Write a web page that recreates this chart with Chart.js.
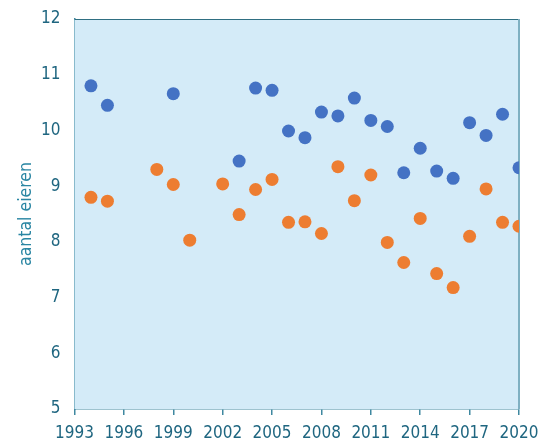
<!DOCTYPE html>
<html>
<head>
<meta charset="utf-8">
<script src="https://cdn.jsdelivr.net/npm/chart.js@4"></script>
<style>
  html, body { margin: 0; padding: 0; background: #fff; }
  #wrap { width: 553px; height: 448px; }
</style>
</head>
<body>
<div id="wrap"><canvas id="grafiek"></canvas></div>
<script>
// jaren en aantallen
const jarenBlauw = [1994, 1995, 1999, 2003, 2004, 2005, 2006, 2007, 2008, 2009, 2010, 2011, 2012, 2013, 2014, 2015, 2016, 2017, 2018, 2019, 2020];
const eierenBlauw = [10.80, 10.45, 10.66, 9.45, 10.76, 10.72, 9.99, 9.87, 10.33, 10.26, 10.58, 10.18, 10.07, 9.24, 9.68, 9.27, 9.14, 10.14, 9.91, 10.29, 9.33];

const jarenOranje = [1994, 1995, 1998, 1999, 2000, 2002, 2003, 2004, 2005, 2006, 2007, 2008, 2009, 2010, 2011, 2012, 2013, 2014, 2015, 2016, 2017, 2018, 2019, 2020];
const eierenOranje = [8.80, 8.73, 9.30, 9.03, 8.03, 9.04, 8.49, 8.94, 9.12, 8.35, 8.36, 8.15, 9.35, 8.74, 9.20, 7.99, 7.63, 8.42, 7.43, 7.18, 8.10, 8.95, 8.35, 8.28];

const xTicks = [1993, 1996, 1999, 2002, 2005, 2008, 2011, 2014, 2017, 2020];
const yTicks = [5, 6, 7, 8, 9, 10, 11, 12];

const tekstKleur = "#1f6680";
const lettertype = "'DejaVu Sans Condensed', 'Open Sans', sans-serif";

function punten(jaren, waarden) {
  return jaren.map((j, i) => ({ x: j, y: waarden[i] }));
}

// achtergrond van het plotvlak + rand boven/rechts
const achtergrond = {
  id: "achtergrond",
  beforeDatasetsDraw(chart) {
    const { ctx, chartArea: a } = chart;
    ctx.save();
    ctx.fillStyle = "#d4ebf8";
    ctx.fillRect(a.left, a.top, a.right - a.left, a.bottom - a.top);
    ctx.strokeStyle = "#2f6f82";
    ctx.lineWidth = 1;
    ctx.beginPath();
    ctx.moveTo(a.left, a.top + 0.5);
    ctx.lineTo(a.right, a.top + 0.5);
    ctx.stroke();
    ctx.strokeStyle = "#7fb0c2";
    ctx.lineWidth = 2;
    ctx.beginPath();
    ctx.moveTo(a.right, a.top);
    ctx.lineTo(a.right, a.bottom);
    ctx.stroke();
    ctx.restore();
  }
};

new Chart(document.getElementById("grafiek"), {
  type: "scatter",
  data: {
    datasets: [
      {
        label: "blauw",
        data: punten(jarenBlauw, eierenBlauw),
        backgroundColor: "#4472c4",
        borderColor: "#4472c4",
        borderWidth: 0,
        pointRadius: 6.5
      },
      {
        label: "oranje",
        data: punten(jarenOranje, eierenOranje),
        backgroundColor: "#ed7d31",
        borderColor: "#ed7d31",
        borderWidth: 0,
        pointRadius: 6.5
      }
    ]
  },
  options: {
    responsive: true,
    maintainAspectRatio: false,
    animation: false,
    layout: { padding: { top: 19, right: 34, left: 0, bottom: 0 } },
    plugins: {
      legend: { display: false },
      tooltip: { enabled: false }
    },
    scales: {
      x: {
        type: "linear",
        min: 1993,
        max: 2020,
        afterFit(scale) { scale.height = 39; },
        afterBuildTicks(scale) { scale.ticks = xTicks.map(v => ({ value: v })); },
        grid: {
          drawOnChartArea: false,
          drawTicks: true,
          tickLength: 6,
          color: "#3f88a0",
          lineWidth: 1.5
        },
        border: { color: "#3f88a0", width: 1.5 },
        ticks: {
          color: tekstKleur,
          font: { family: lettertype, size: 17 },
          padding: 8,
          maxRotation: 0,
          autoSkip: false,
          callback: v => String(v)
        }
      },
      y: {
        min: 5,
        max: 12,
        afterFit(scale) {
          scale.width = 74.5;
          scale.paddingTop = 0;
          scale.paddingBottom = 0;
        },
        afterBuildTicks(scale) { scale.ticks = yTicks.map(v => ({ value: v })); },
        grid: { drawOnChartArea: false, drawTicks: false },
        border: { color: "#3f88a0", width: 1.5 },
        ticks: {
          color: tekstKleur,
          font: { family: lettertype, size: 17 },
          padding: 14
        },
        title: {
          display: true,
          text: "aantal eieren",
          color: "#2a86a3",
          font: { family: lettertype, size: 17.5 },
          padding: { top: 16, bottom: 0 }
        }
      }
    }
  },
  plugins: [achtergrond]
});
</script>
</body>
</html>
